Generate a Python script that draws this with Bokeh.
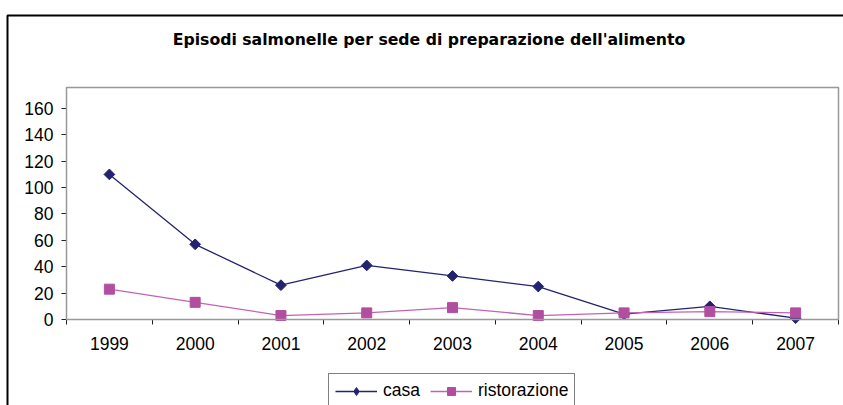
from bokeh.plotting import figure
from bokeh.models import (Range1d, FixedTicker, Legend, LegendItem, Label,
                          BoxAnnotation, LinearAxis)
from bokeh.embed import file_html
from bokeh.resources import INLINE
import math

# ---- data ----
years = [1999, 2000, 2001, 2002, 2003, 2004, 2005, 2006, 2007]
casa = [110, 57, 26, 41, 33, 25, 4, 10, 1]
ristorazione = [23, 13, 3, 5, 9, 3, 5, 6, 5]
y_ticks = [0, 20, 40, 60, 80, 100, 120, 140, 160]
y_max = 175.9
title_text = "Episodi salmonelle per sede di preparazione dell'alimento"
series_names = ["casa", "ristorazione"]

FONT = "Liberation Sans"
NAVY = "#23236F"
MAG_LINE = "#C463B3"
MAG_MARK = "#B24EA0"
AX = "#222222"

# ---- layout (pixels) ----
W, H = 843, 405
PL, PR, PT, PB = 66, 838, 87, 319   # inner plot area in canvas pixels

x0, x1 = years[0] - 0.5, years[-1] + 0.5
sx = (x1 - x0) / (PR - PL)
sy = y_max / (PB - PT)

p = figure(width=W, height=H, output_backend="svg", toolbar_location=None,
           x_range=Range1d(x0 - PL * sx, x1 + (W - PR) * sx),
           y_range=Range1d(-(H - PB) * sy, y_max + PT * sy),
           x_axis_location=None, y_axis_location=None,
           min_border=0)

p.background_fill_color = "white"
p.border_fill_color = "white"
p.outline_line_color = None
p.xgrid.visible = False
p.ygrid.visible = False

# inner plot-area border
p.add_layout(BoxAnnotation(left=x0, right=x1, bottom=0, top=y_max,
                           fill_color=None, fill_alpha=0,
                           line_color="#999999", line_alpha=1,
                           line_width=1.5))

# y axis
ya = LinearAxis(fixed_location=x0, bounds=(0, y_max),
                ticker=FixedTicker(ticks=y_ticks, minor_ticks=[]))
ya.axis_line_color = AX
ya.major_tick_line_color = AX
ya.major_tick_out = 5
ya.major_tick_in = 0
ya.minor_tick_line_color = None
ya.major_label_standoff = 8
ya.major_label_text_font = FONT
ya.major_label_text_font_size = "17.5px"
ya.major_label_text_color = "black"
p.add_layout(ya, "left")

# x axis: labels at centers, ticks at boundaries
bounds = [y - 0.5 for y in years] + [years[-1] + 0.5]
xa = LinearAxis(fixed_location=0, bounds=(x0, x1),
                ticker=FixedTicker(ticks=years, minor_ticks=bounds))
xa.axis_line_color = AX
xa.major_tick_line_color = None
xa.major_tick_out = 5
xa.major_tick_in = 0
xa.minor_tick_line_color = AX
xa.minor_tick_out = 5
xa.minor_tick_in = 0
xa.major_label_standoff = 12
xa.major_label_text_font = FONT
xa.major_label_text_font_size = "17.5px"
xa.major_label_text_color = "black"
xa.major_label_overrides = {y: str(y) for y in years}
p.add_layout(xa, "below")

# series
l1 = p.line(years, casa, line_color=NAVY, line_width=1.3)
m1 = p.scatter(years, casa, marker="square", size=7.6, angle=math.pi / 4,
               fill_color=NAVY, line_color=NAVY)
l2 = p.line(years, ristorazione, line_color=MAG_LINE, line_width=1.3)
m2 = p.scatter(years, ristorazione, marker="square", size=10,
               fill_color=MAG_MARK, line_color=MAG_MARK)
# legend-only diamond glyph (a NaN point: draws nothing in the plot)
d1 = p.scatter(x=[math.nan], y=[math.nan], marker="diamond", size=14,
               fill_color=NAVY, line_color=NAVY)

legend = Legend(items=[LegendItem(label=series_names[0], renderers=[l1, d1]),
                       LegendItem(label=series_names[1], renderers=[l2, m2])],
                orientation="horizontal", location=(328, -3),
                border_line_color="black", border_line_width=1,
                background_fill_color="white", padding=6, spacing=10,
                glyph_width=42, glyph_height=20, label_standoff=6,
                label_text_font=FONT, label_text_font_size="17.5px",
                label_text_color="black", margin=0)
p.add_layout(legend, "center")

# title
p.add_layout(Label(x=428.5, y=H - 39, x_units="screen", y_units="screen",
                   text=title_text, text_align="center",
                   text_baseline="alphabetic", text_font="DejaVu Sans",
                   text_font_style="bold", text_font_size="15.7px",
                   text_color="black"))

# outer chart frame
p.add_layout(BoxAnnotation(left=7, right=W + 50, top=H - 15, bottom=-50,
                           left_units="screen", right_units="screen",
                           top_units="screen", bottom_units="screen",
                           fill_color=None, fill_alpha=0,
                           line_color="black", line_alpha=1,
                           line_width=2))

open("out.html", "w").write(file_html(p, INLINE))
